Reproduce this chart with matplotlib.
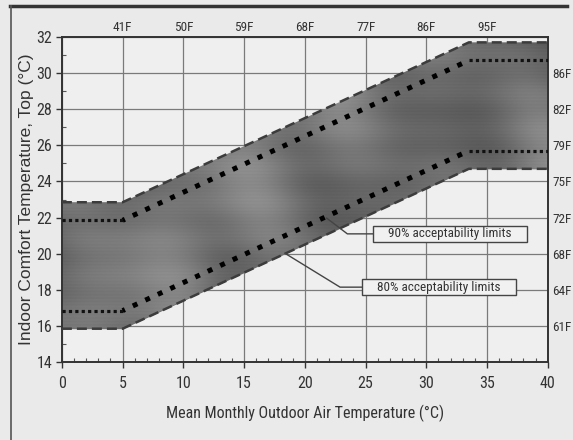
import numpy as np
import matplotlib
matplotlib.use('Agg')
import matplotlib.pyplot as plt
from matplotlib.lines import Line2D
from matplotlib.patches import Rectangle

# Break points of the comfort zone (outdoor temp, °C)
x_bp = [0, 5, 33.5, 40]
# 80% acceptability limits (dashed, outer)
low80 = [15.85, 15.85, 24.7, 24.7]
up80 = [22.85, 22.85, 31.7, 31.7]
# 90% acceptability limits (square dots)
low90 = [16.85, 16.85, 25.7, 25.7]
up90 = [21.85, 21.85, 30.7, 30.7]

x_ticks = [0, 5, 10, 15, 20, 25, 30, 35, 40]
y_ticks = [14, 16, 18, 20, 22, 24, 26, 28, 30, 32]
top_pos = [5, 10, 15, 20, 25, 30, 35]
top_lbl = ['41F', '50F', '59F', '68F', '77F', '86F', '95F']
right_pos = [30, 28, 26, 24, 22, 20, 18, 16]
right_lbl = ['86F', '82F', '79F', '75F', '72F', '68F', '64F', '61F']

plt.rcParams['font.family'] = ['Roboto Condensed', 'DejaVu Sans']

fig = plt.figure(figsize=(5.73, 4.40), dpi=100, facecolor='#eaeaea')
ax = fig.add_axes([0.108, 0.177, 0.848, 0.739])
ax.set_facecolor('#efefef')
ax.set_xlim(0, 40)
ax.set_ylim(14, 32)

ax.grid(True, color='#7a7a7a', lw=0.9)
ax.set_axisbelow(True)

# shaded zone between 80% limits with a mottled scan-like texture
poly = ax.fill_between(x_bp, low80, up80, color='#6a6a6a', lw=0, zorder=2)
gx, gy = np.meshgrid(np.linspace(0, 40, 400), np.linspace(14, 32, 300))
tex = (np.sin(gx / 2.3 + gy / 1.7) * 0.5 + np.sin(gx / 4.1 - gy / 2.9) * 0.6
       + np.sin(gy * 3.1) * 0.15 + np.cos(gx / 1.3 + gy / 3.7) * 0.3
       + np.sin(gy * 34.0) * 0.12)
im = ax.imshow(tex, extent=[0, 40, 14, 32], origin='lower', aspect='auto',
               cmap='gray', vmin=-5.6, vmax=7.0, zorder=2.5, interpolation='bilinear')
im.set_clip_path(poly.get_paths()[0], transform=ax.transData)

# 80% limits: dashed edges
for yy in (low80, up80):
    ax.plot(x_bp, yy, color='#3c3c3c', lw=1.8, ls=(0, (4, 2)), zorder=3)

# 90% limits: square dots (big on slope, small on flats)
for yy in (low90, up90):
    ax.plot(x_bp[1:3], yy[1:3], color='black', lw=3.6, ls=(0.5, (1, 1.75)),
            dash_capstyle='butt', zorder=4)
    ax.plot(x_bp[:2], yy[:2], color='#111111', lw=2.3, ls=(0, (1, 1)),
            dash_capstyle='butt', zorder=4)
    ax.plot(x_bp[2:], yy[2:], color='#111111', lw=2.3, ls=(0, (1, 1)),
            dash_capstyle='butt', zorder=4)

# labels with leader lines
boxes = [('90% acceptability limits', 25.6, 38.3, 21.1, (21.8, 21.97), 23.5),
         ('80% acceptability limits', 24.7, 37.4, 18.15, (18.35, 20.03), 22.9)]
for txt, x0, x1, yc, pt, elbow in boxes:
    ax.add_patch(Rectangle((x0, yc - 0.45), x1 - x0, 0.9, facecolor='#f1f1f1',
                           edgecolor='#444444', lw=1.0, zorder=5))
    ax.text((x0 + x1) / 2, yc, txt, ha='center', va='center', fontsize=9.5,
            color='#333333', zorder=6)
    ax.plot([x0, elbow, pt[0]], [yc, yc, pt[1]], color='#444444', lw=1.0, zorder=5)

ax.set_xticks(x_ticks)
ax.set_yticks(y_ticks)
ax.set_xticks(range(0, 41), minor=True)
ax.set_yticks(range(14, 33), minor=True)
ax.tick_params(which='major', direction='out', length=4, width=1, colors='#333333',
               labelsize=11.5)
ax.tick_params(axis='x', which='major', pad=6)
ax.tick_params(axis='y', which='major', pad=3)
ax.tick_params(which='minor', direction='in', length=3, width=0.8, color='#555555')
for s in ax.spines.values():
    s.set_color('#333333')
    s.set_linewidth(1.4)

ax.set_xlabel('Mean Monthly Outdoor Air Temperature (°C)', fontsize=11.5,
              color='#333333', labelpad=10)
ax.set_ylabel('Indoor Comfort Temperature, Top (°C)', fontsize=12.5,
              color='#333333', family=['Liberation Sans', 'DejaVu Sans'], labelpad=2)

top = ax.twiny()
top.set_xlim(0, 40)
top.set_xticks(top_pos)
top.set_xticklabels(top_lbl)
top.tick_params(length=0, labelsize=9.5, colors='#333333', pad=2)

right = ax.twinx()
right.set_ylim(14, 32)
right.set_yticks(right_pos)
right.set_yticklabels(right_lbl)
right.tick_params(length=0, labelsize=9.5, colors='#333333', pad=3)
for a in (top, right):
    for s in a.spines.values():
        s.set_visible(False)

# outer frame of the scanned figure
fig.add_artist(Line2D([0.017, 0.99], [0.986, 0.986], color='#333333', lw=2.5))
fig.add_artist(Line2D([0.019, 0.019], [0.0, 0.986], color='#555555', lw=1.2))

fig.savefig('out.png', dpi=100, facecolor=fig.get_facecolor())
